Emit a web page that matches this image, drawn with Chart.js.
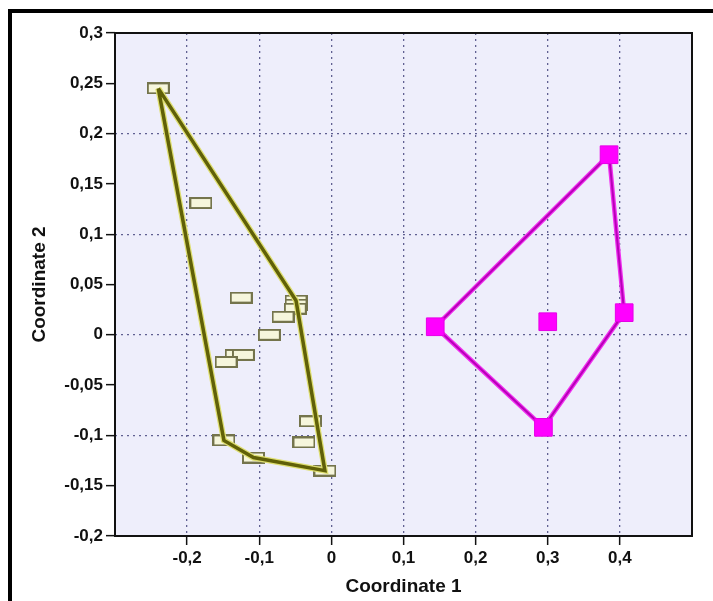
<!DOCTYPE html>
<html>
<head>
<meta charset="utf-8">
<script src="https://cdn.jsdelivr.net/npm/chart.js@4/dist/chart.umd.min.js"></script>
<style>
  body { margin: 0; background: #fff; }
  canvas { display: block; }
</style>
</head>
<body>
<canvas id="pcoChart" width="713" height="601"></canvas>
<script>
// Group 1 (olive, hollow rectangles)
const greenX = [-0.240, -0.181, -0.125, -0.049, -0.049, -0.050, -0.067, -0.086, -0.132, -0.122, -0.146, -0.029, -0.038, -0.149, -0.108, -0.009];
const greenY = [0.245, 0.131, 0.037, 0.034, 0.030, 0.026, 0.018, 0.000, -0.020, -0.020, -0.027, -0.086, -0.107, -0.105, -0.122, -0.135];
const greenHull = [0, 3, 15, 14, 13, 0];

// Group 2 (magenta, filled squares)
const pinkX = [0.144, 0.300, 0.406, 0.385, 0.294];
const pinkY = [0.008, 0.013, 0.022, 0.179, -0.092];
const pinkHull = [0, 3, 2, 4, 0];

// Axis ticks
const xTicks = [-0.2, -0.1, 0, 0.1, 0.2, 0.3, 0.4];
const yTicks = [-0.2, -0.15, -0.1, -0.05, 0, 0.05, 0.1, 0.15, 0.2, 0.25, 0.3];

const toPoints = (xs, ys) => xs.map((x, i) => ({ x: x, y: ys[i] }));
const hullPoints = (xs, ys, idx) => idx.map(i => ({ x: xs[i], y: ys[i] }));
const fmt = v => String(+Number(v).toFixed(2)).replace('.', ',');

// hollow rectangle marker for group 1
function makeRectMarker() {
  const c = document.createElement('canvas');
  c.width = 23; c.height = 12;
  const g = c.getContext('2d');
  g.fillStyle = '#f6f6dc';
  g.fillRect(1, 1, 21, 10);
  g.strokeStyle = '#74744c';
  g.lineWidth = 2;
  g.strokeRect(1, 1, 21, 10);
  return c;
}

const framePlugin = {
  id: 'frame',
  beforeDraw(chart) {
    const ctx = chart.ctx, a = chart.chartArea;
    ctx.save();
    ctx.fillStyle = '#fff';
    ctx.fillRect(0, 0, chart.width, chart.height);
    ctx.fillStyle = '#000';
    ctx.fillRect(8, 9, chart.width - 8, 4);
    ctx.fillRect(8, 9, 4, chart.height - 9);
    ctx.fillStyle = '#eeeefb';
    ctx.fillRect(a.left, a.top, a.right - a.left, a.bottom - a.top);
    ctx.restore();
  },
  afterDatasetsDraw(chart) {
    const ctx = chart.ctx, a = chart.chartArea;
    ctx.save();
    ctx.strokeStyle = '#111';
    ctx.lineWidth = 2;
    ctx.strokeRect(a.left, a.top, a.right - a.left, a.bottom - a.top);
    ctx.restore();
  }
};

const gridColor = 'rgba(60,60,120,0.8)';
const tickFont = { family: 'Liberation Sans, Arial, sans-serif', size: 17, weight: 'bold' };
const titleFont = { family: 'Liberation Sans, Arial, sans-serif', size: 19, weight: 'bold' };

new Chart(document.getElementById('pcoChart').getContext('2d'), {
  type: 'scatter',
  data: {
    datasets: [
      {
        label: 'group 2',
        data: toPoints(pinkX, pinkY),
        pointStyle: 'rect',
        pointRadius: 12.5,
        backgroundColor: '#ff00ff',
        borderColor: '#e600e6',
        borderWidth: 1,
        order: 1
      },
      {
        label: 'group 2 hull',
        data: hullPoints(pinkX, pinkY, pinkHull),
        showLine: true,
        pointRadius: 0,
        borderColor: '#b800b8',
        borderWidth: 2,
        order: 2
      },
      {
        label: 'group 2 hull glow',
        data: hullPoints(pinkX, pinkY, pinkHull),
        showLine: true,
        pointRadius: 0,
        borderColor: '#f030f0',
        borderWidth: 4.5,
        order: 3
      },
      {
        label: 'group 1 hull',
        data: hullPoints(greenX, greenY, greenHull),
        showLine: true,
        pointRadius: 0,
        borderColor: '#606008',
        borderWidth: 3.5,
        order: 4
      },
      {
        label: 'group 1 hull glow',
        data: hullPoints(greenX, greenY, greenHull),
        showLine: true,
        pointRadius: 0,
        borderColor: '#dede70',
        borderWidth: 6,
        order: 5
      },
      {
        label: 'group 1',
        data: toPoints(greenX, greenY),
        pointStyle: makeRectMarker(),
        pointRadius: 11,
        order: 6
      }
    ]
  },
  options: {
    responsive: false,
    animation: false,
    layout: { padding: { left: 25, top: 33, right: 21, bottom: 0 } },
    plugins: {
      legend: { display: false },
      tooltip: { enabled: false }
    },
    scales: {
      x: {
        type: 'linear',
        min: -0.3,
        max: 0.5,
        afterBuildTicks: s => { s.ticks = xTicks.map(v => ({ value: v })); },
        afterFit: s => { s.height = 65; },
        ticks: { color: '#111', font: tickFont, padding: 3, callback: v => fmt(v), maxRotation: 0 },
        grid: { color: gridColor, lineWidth: 1.3, tickColor: '#111', tickLength: 9, tickWidth: 1.5 },
        border: { display: false, dash: [2, 4] },
        title: { display: true, text: 'Coordinate 1', color: '#111', font: titleFont, padding: 3 }
      },
      y: {
        type: 'linear',
        min: -0.2,
        max: 0.3,
        afterBuildTicks: s => { s.ticks = yTicks.map(v => ({ value: v })); },
        afterFit: s => { s.width = 90; },
        ticks: { color: '#111', font: tickFont, padding: 3, callback: v => fmt(v) },
        grid: {
          color: c => {
            const v = c.tick ? c.tick.value : 0;
            const onTenth = Math.abs(Math.round(v * 10) - v * 10) < 1e-6;
            return onTenth && v > -0.19 && v < 0.29 ? gridColor : 'rgba(0,0,0,0)';
          },
          lineWidth: 1.3, tickColor: '#111', tickLength: 9, tickWidth: 1.5
        },
        border: { display: false, dash: [2, 4] },
        title: { display: true, text: 'Coordinate 2', color: '#111', font: titleFont, padding: 3 }
      }
    }
  },
  plugins: [framePlugin]
});
</script>
</body>
</html>
